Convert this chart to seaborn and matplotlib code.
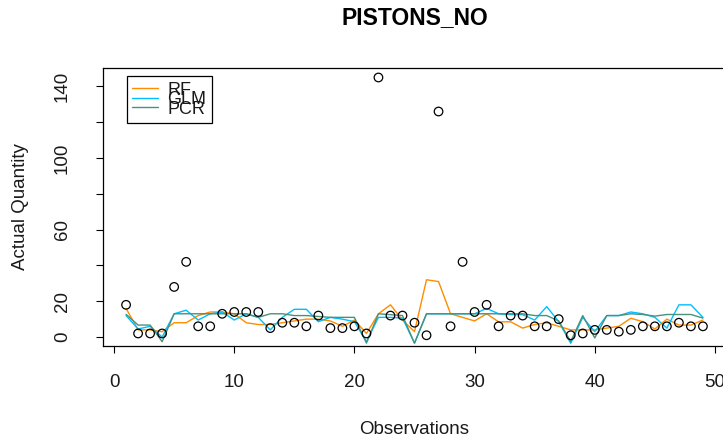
import numpy as np
import pandas as pd
import seaborn as sns
import matplotlib.pyplot as plt

# Dados
obs = list(range(1, 50))
actual = [18, 2, 2, 2, 28, 42, 6, 6, 13, 14, 14, 14, 5, 8, 8, 6, 12, 5, 5, 6,
          2, 145, 12, 12, 8, 1, 126, 6, 42, 14, 18, 6, 12, 12, 6, 6, 10, 1, 2, 4,
          4, 3, 4, 6, 6, 6, 8, 6, 6]
rf = [16, 4, 4, 3, 8, 8, 12, 14, 14, 13, 8, 7, 7, 8, 9, 10, 10, 9, 6, 9.5,
      2, 13, 18, 9.5, 3, 32, 31, 13, 11, 9, 13, 8.5, 8.5, 5, 7, 8, 6, 4, 4, 4,
      5, 6, 10.5, 8.6, 4.5, 10, 6.7, 6.7, 9.5]
glm = [12, 4.5, 6, 0, 13, 15, 9.5, 13, 14, 9.5, 13, 11, 4, 11, 15.5, 15.5, 8.6, 11, 10, 8.6,
       -2.6, 11, 11, 10.6, -3.4, 13, 13, 13, 13, 13, 16, 13, 12.5, 12.5, 9.5, 17, 8.6, -3.5, 11, 3,
       12, 12, 14, 13, 11, 5, 18, 18, 11]
pcr = [12.7, 6.7, 6.7, -2.6, 13, 13, 13, 13, 13, 13, 13, 11, 13, 13, 12, 12, 11.5, 11, 11, 11,
       -3.4, 13, 12.5, 12, -3.4, 13, 13, 13, 13, 13, 13, 13, 13, 13, 12, 12, 9, -2.5, 12, -0.5,
       12, 12, 13, 12.6, 11.7, 12.6, 12.6, 12.6, 10.6]

df = pd.DataFrame({'obs': obs, 'actual': actual, 'RF': rf, 'GLM': glm, 'PCR': pcr})

sns.set_style("white")
plt.rcParams['font.family'] = ['Liberation Sans', 'DejaVu Sans']

fig = plt.figure(figsize=(7.23, 4.41), dpi=100)
ax = fig.add_axes([103 / 723, 1 - 346 / 441, (726 - 103) / 723, (346 - 68) / 441])

sns.scatterplot(data=df, x='obs', y='actual', ax=ax, marker='o', s=38,
                facecolor='none', edgecolor='black', linewidth=0.9, zorder=3)
sns.lineplot(data=df, x='obs', y='RF', ax=ax, color='#FF8C00', linewidth=1, label='RF')
sns.lineplot(data=df, x='obs', y='GLM', ax=ax, color='#00BFFF', linewidth=1, label='GLM')
sns.lineplot(data=df, x='obs', y='PCR', ax=ax, color='#4A917C', linewidth=1, label='PCR')

ax.set_xlim(-0.92, 50.92)
ax.set_ylim(-5, 150.3)
ax.set_xticks([0, 10, 20, 30, 40, 50])
ax.set_yticks([0, 20, 40, 60, 80, 100, 120, 140])
ax.set_yticklabels(['0', '20', '', '60', '', '100', '', '140'], rotation=90, va='center')
ax.tick_params(axis='both', direction='out', length=5, width=0.8, color='black',
               labelsize=13.5, labelcolor='#1a1a1a', left=True, bottom=True)
ax.tick_params(axis='x', pad=15)
ax.tick_params(axis='y', pad=18)
for s in ax.spines.values():
    s.set_color('black')
    s.set_linewidth(0.9)

ax.set_xlabel("Observations", fontsize=13.5, color='#1a1a1a')
ax.set_ylabel("Actual Quantity", fontsize=13.5, color='#1a1a1a')
ax.xaxis.set_label_coords(0.5, -0.302)
ax.xaxis.label.set_va('center')
ax.yaxis.set_label_coords(-0.133, 0.5)
ax.yaxis.label.set_va('center')
ax.set_title("PISTONS_NO", fontsize=16.5, fontweight='bold', pad=32, color='black')

leg = ax.legend(loc='upper left', bbox_to_anchor=(0.038, 0.97), fontsize=13,
                frameon=True, fancybox=False, edgecolor='black', framealpha=1,
                labelspacing=-0.42, handlelength=1.45, handletextpad=0.5,
                borderpad=0.3, borderaxespad=0)
leg.get_frame().set_linewidth(0.9)
for t in leg.get_texts():
    t.set_color('#1a1a1a')

plt.savefig("out.png", dpi=100)
